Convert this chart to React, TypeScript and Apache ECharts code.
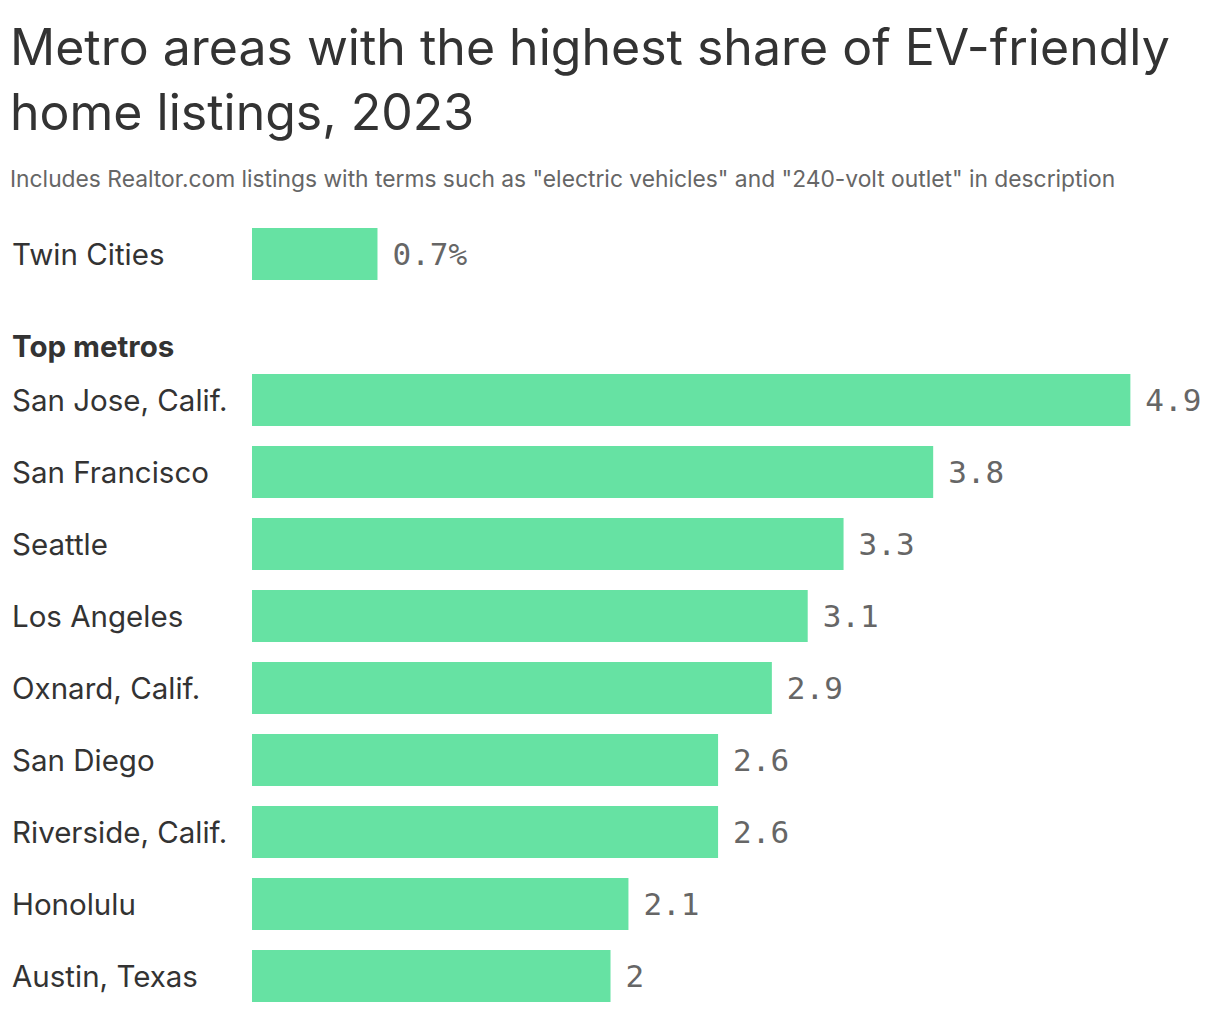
import React, { useEffect, useRef } from "react";
import * as echarts from "echarts";

// Twin Cities reference row
const localMetro = ["Twin Cities"];
const localShare = [0.7];

// Top metros (share of listings, %)
const topMetros = [
  "San Jose, Calif.",
  "San Francisco",
  "Seattle",
  "Los Angeles",
  "Oxnard, Calif.",
  "San Diego",
  "Riverside, Calif.",
  "Honolulu",
  "Austin, Texas",
];
const topShare = [4.9, 3.8, 3.3, 3.1, 2.9, 2.6, 2.6, 2.1, 2];

const BAR_COLOR = "#66e2a3";
const SANS = "Inter, 'Noto Sans', sans-serif";
const MONO = "'DejaVu Sans Mono', monospace";

const App: React.FC = () => {
  const chartRef = useRef<HTMLDivElement>(null);

  useEffect(() => {
    if (!chartRef.current) return;
    const chart = echarts.init(chartRef.current, null, { renderer: "svg" });

    const axisLabel = {
      align: "left" as const,
      margin: 240,
      fontFamily: SANS,
      fontSize: 29.5,
      color: "#333333",
    };
    const valueLabel = {
      show: true,
      position: "right" as const,
      distance: 15,
      fontFamily: MONO,
      fontSize: 31,
      color: "#666666",
    };

    chart.setOption({
      animation: false,
      title: {
        text: "Metro areas with the highest share of EV-friendly\nhome listings, 2023",
        left: 5,
        top: 9,
        textStyle: {
          fontFamily: SANS,
          fontSize: 50,
          fontWeight: 400,
          lineHeight: 65,
          color: "#333333",
        },
        subtext:
          'Includes Realtor.com listings with terms such as "electric vehicles" and "240-volt outlet" in description',
        itemGap: 23,
        subtextStyle: {
          fontFamily: SANS,
          fontSize: 22.8,
          color: "#666666",
        },
      },
      graphic: [
        {
          type: "text",
          left: 12,
          top: 331,
          style: {
            text: "Top metros",
            fontFamily: SANS,
            fontSize: 29.5,
            fontWeight: 700,
            fill: "#333333",
          },
        },
      ],
      grid: [
        { left: 252, right: 0, top: 218, height: 72 },
        { left: 252, right: 0, top: 364, height: 648 },
      ],
      xAxis: [
        { type: "value", gridIndex: 0, min: 0, max: 5.4, show: false },
        { type: "value", gridIndex: 1, min: 0, max: 5.4, show: false },
      ],
      yAxis: [
        {
          type: "category",
          gridIndex: 0,
          data: localMetro,
          inverse: true,
          axisLine: { show: false },
          axisTick: { show: false },
          axisLabel,
        },
        {
          type: "category",
          gridIndex: 1,
          data: topMetros,
          inverse: true,
          axisLine: { show: false },
          axisTick: { show: false },
          axisLabel,
        },
      ],
      series: [
        {
          type: "bar",
          xAxisIndex: 0,
          yAxisIndex: 0,
          data: localShare,
          barWidth: 52,
          itemStyle: { color: BAR_COLOR },
          label: { ...valueLabel, formatter: (p: any) => `${p.value}%` },
        },
        {
          type: "bar",
          xAxisIndex: 1,
          yAxisIndex: 1,
          data: topShare,
          barWidth: 52,
          itemStyle: { color: BAR_COLOR },
          label: { ...valueLabel, formatter: (p: any) => `${p.value}` },
        },
      ],
    });

    return () => chart.dispose();
  }, []);

  return (
    <div
      ref={chartRef}
      style={{ position: "fixed", left: 0, top: 0, width: 1220, height: 1012, background: "#fff" }}
    />
  );
};

export default App;
